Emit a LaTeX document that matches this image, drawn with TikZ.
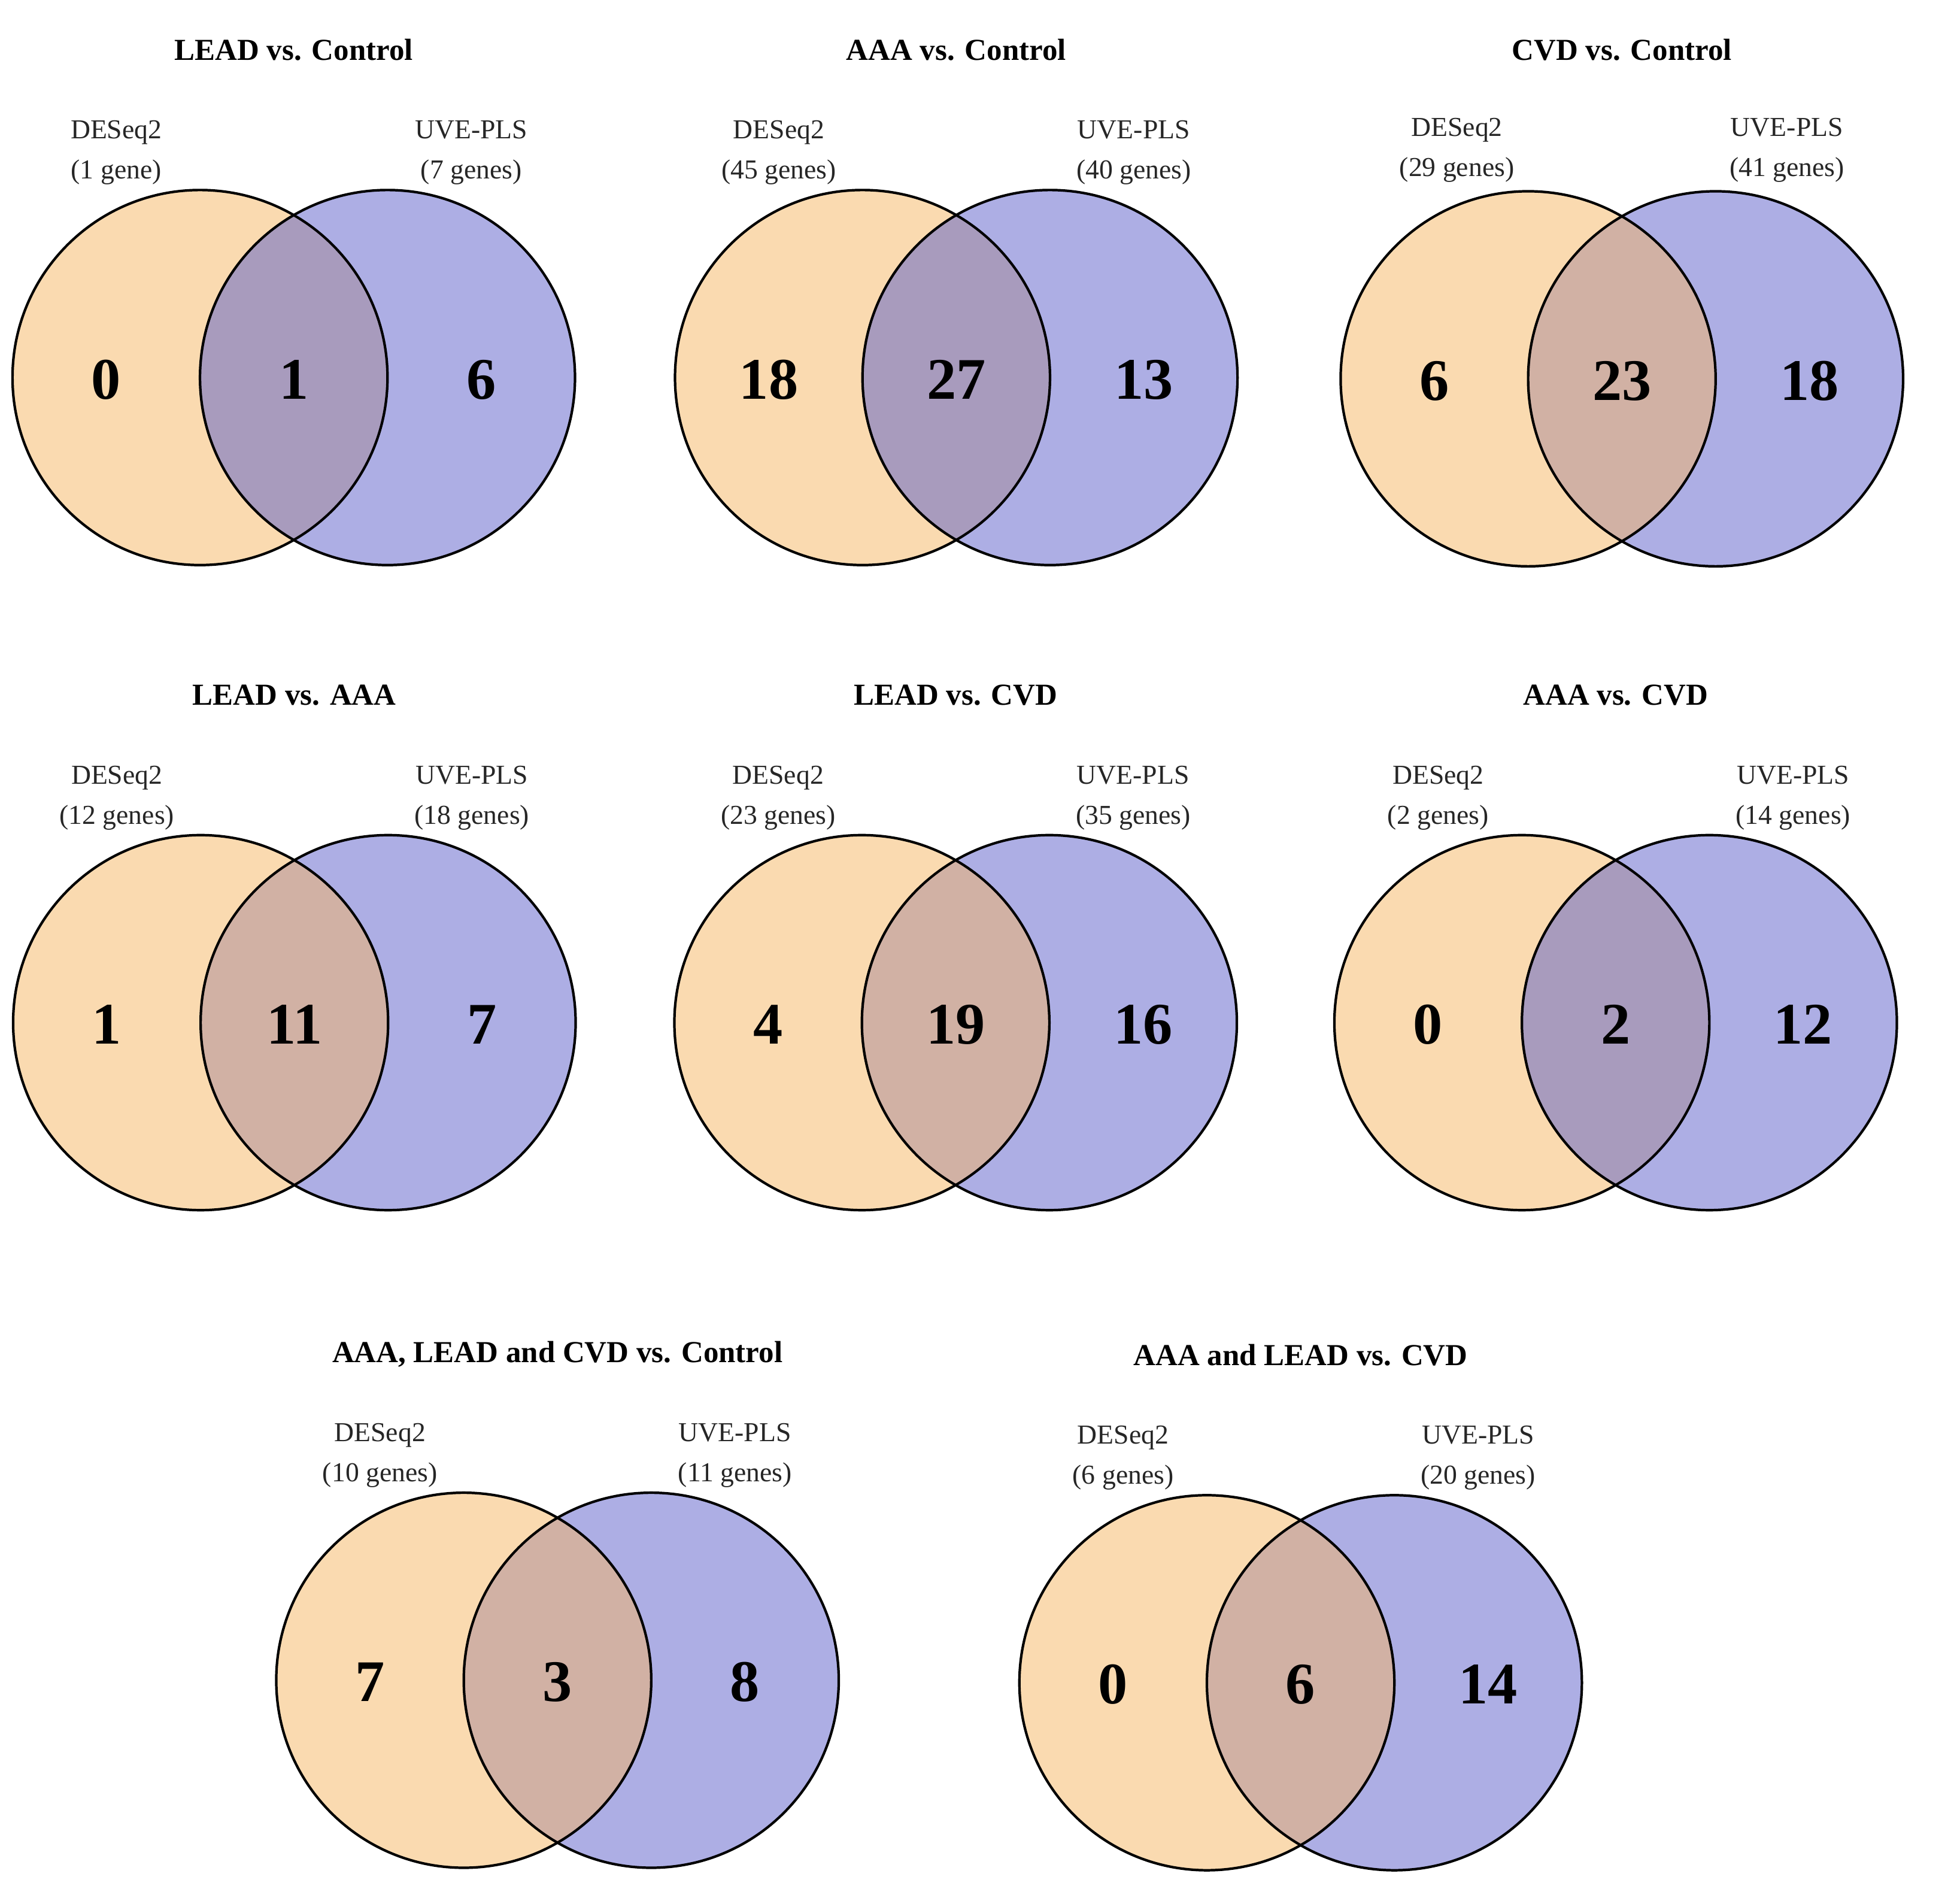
\documentclass[tikz,border=0pt]{standalone}
\usepackage{fontspec}
\setmainfont{Liberation Serif}
\usepackage{tikz}
\usetikzlibrary{positioning}

\definecolor{deseqfill}{RGB}{250,218,176}
\definecolor{uvefill}{RGB}{173,174,228}
\definecolor{mixpurple}{RGB}{168,155,189}
\definecolor{mixbrown}{RGB}{209,177,164}
\def\vennr{31.32mm}

\begin{document}
\begin{tikzpicture}[x=0.2088mm,y=-0.2088mm,
  vtitle/.style={anchor=base,font=\fontsize{14.5}{17}\selectfont\bfseries},
  vlabel/.style={anchor=base,text=black!85,font=\fontsize{13}{15}\selectfont},
  vcount/.style={anchor=base,font=\fontsize{28}{31}\selectfont\bfseries},
  vline/.style={draw=black,line width=1.2pt}]
\useasboundingbox (0,0) rectangle (1568,1518);

\foreach \n/\mx/\cy/\tb/\lb/\lo/\ttl/\ga/\gb/\na/\nb/\nc/\mix in {
  1/235/302/48/111/142/{LEAD vs. Control}/{(1 gene)}/{(7 genes)}/0/1/6/mixpurple,
  2/765/302/48/111/142/{AAA vs. Control}/{(45 genes)}/{(40 genes)}/18/27/13/mixpurple,
  3/1297.5/303/48/109/132/{CVD vs. Control}/{(29 genes)}/{(41 genes)}/6/23/18/mixbrown,
  4/235.5/818/564/627/142/{LEAD vs. AAA}/{(12 genes)}/{(18 genes)}/1/11/7/mixbrown,
  5/764.5/818/564/627/142/{LEAD vs. CVD}/{(23 genes)}/{(35 genes)}/4/19/16/mixbrown,
  6/1292.5/818/564/627/142/{AAA vs. CVD}/{(2 genes)}/{(14 genes)}/0/2/12/mixpurple,
  7/446/1344/1090/1153/142/{AAA, LEAD and CVD vs. Control}/{(10 genes)}/{(11 genes)}/7/3/8/mixbrown,
  8/1040.5/1346/1092/1155/142/{AAA and LEAD vs. CVD}/{(6 genes)}/{(20 genes)}/0/6/14/mixbrown}
{
  \coordinate (L\n) at ({\mx-75},\cy);
  \coordinate (R\n) at ({\mx+75},\cy);
  % circles
  \fill[deseqfill] (L\n) circle[radius=\vennr];
  \fill[uvefill] (R\n) circle[radius=\vennr];
  \begin{scope}
    \clip (L\n) circle[radius=\vennr];
    \fill[\mix] (R\n) circle[radius=\vennr];
  \end{scope}
  \draw[vline] (L\n) circle[radius=\vennr];
  \draw[vline] (R\n) circle[radius=\vennr];
  % texts
  \node[vtitle] (title\n) at (\mx,\tb) {\ttl};
  \node[vlabel] (deseq\n) at ({\mx-\lo},\lb) {DESeq2};
  \node[vlabel] (deseqn\n) at ({\mx-\lo},{\lb+32}) {\ga};
  \node[vlabel] (uve\n) at ({\mx+\lo},\lb) {UVE-PLS};
  \node[vlabel] (uven\n) at ({\mx+\lo},{\lb+32}) {\gb};
  \node[vcount] (only\n) at ({\mx-150},{\cy+17}) {\na};
  \node[vcount] (both\n) at (\mx,{\cy+17}) {\nb};
  \node[vcount] (uveonly\n) at ({\mx+150},{\cy+17}) {\nc};
}
\end{tikzpicture}
\end{document}
